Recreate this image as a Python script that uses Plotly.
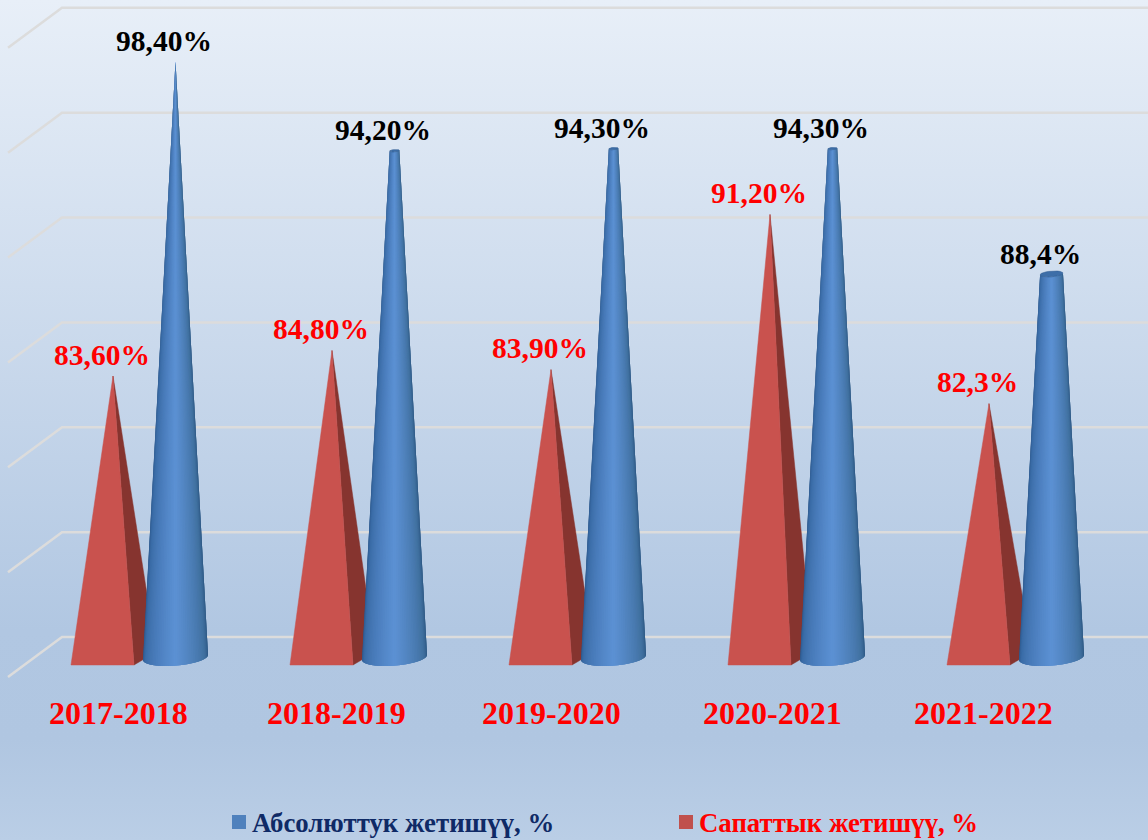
import numpy as np
import plotly.graph_objects as go
from plotly.colors import sample_colorscale

years = ["2017-2018", "2018-2019", "2019-2020", "2020-2021", "2021-2022"]
absolute = [98.4, 94.2, 94.3, 94.3, 88.4]
quality = [83.6, 84.8, 83.9, 91.2, 82.3]
absolute_labels = ["98,40%", "94,20%", "94,30%", "94,30%", "88,4%"]
quality_labels = ["83,60%", "84,80%", "83,90%", "91,20%", "82,3%"]
grid_values = [70, 75, 80, 85, 90, 95, 100]
absolute_name = "Абсолюттук жетишүү, %"
quality_name = "Сапаттык жетишүү, %"

W, H = 1148, 840
# one category = 219 px, one percent = 21.25 px, the floor of the chart sits at 70
PX_X = 219.0
PX_Y = 21.25
BASE = 70
X0_PX = 144
Y0_PX = 665
SERIF = "Liberation Serif"


def dx(px):
    return px / PX_X


def dy(px):
    return px / PX_Y


x_range = [-X0_PX / PX_X, (W - X0_PX) / PX_X]
y_range = [BASE - (H - Y0_PX) / PX_Y, BASE + Y0_PX / PX_Y]

fig = go.Figure()

# background
fig.add_trace(go.Scatter(
    x=[x_range[0], x_range[1], x_range[1], x_range[0], x_range[0]],
    y=[y_range[0], y_range[0], y_range[1], y_range[1], y_range[0]],
    mode="none", fill="toself", hoverinfo="skip", showlegend=False,
    fillgradient=dict(type="vertical", colorscale=[
        [0, "#bacee6"], [0.12, "#b0c6e1"], [0.25, "#b1c7e2"], [1, "#e8eff8"]]),
))

# gridlines, back wall plus the short diagonal on the left side
grid_x, grid_y = [], []
for v in grid_values:
    back = BASE + dy(28) + (v - BASE) * 0.987
    grid_x += [x_range[0] + dx(8), x_range[0] + dx(62), x_range[1], None]
    grid_y += [back - dy(40), back, back, None]
fig.add_trace(go.Scatter(x=grid_x, y=grid_y, mode="lines", hoverinfo="skip", showlegend=False,
                         line=dict(color="#dcdcdc", width=2.5)))

# red pyramids
tip_off = 113 - X0_PX
front_x, front_y, side_x, side_y = [], [], [], []
for i, v in enumerate(quality):
    tip = i + dx(tip_off)
    front_x += [tip, tip - dx(42), tip + dx(21), tip, None]
    front_y += [v, BASE, BASE, v, None]
    side_x += [tip, tip + dx(21), tip + dx(43), tip, None]
    side_y += [v, BASE, BASE + dy(13), v, None]
fig.add_trace(go.Scatter(x=side_x, y=side_y, mode="lines", fill="toself", fillcolor="#86342f",
                         line=dict(color="#86342f", width=0.5), hoverinfo="skip", showlegend=False))
fig.add_trace(go.Scatter(x=front_x, y=front_y, mode="lines", fill="toself", fillcolor="#c9524e",
                         line=dict(color="#c9524e", width=0.5), hoverinfo="skip", showlegend=False))

# blue truncated cones, built from long strips so the shading follows the taper
cone_off = 175.5 - X0_PX
R_BASE = 32.5
TILT = 0.077
RATIO = 0.25
N_STRIPS = 48
top_value = max(absolute)
shade = [[0, "#2a5588"], [0.12, "#3a6ba6"], [0.5, "#5c91d4"], [0.85, "#40709f"], [1, "#2a5480"]]
angles = np.linspace(np.pi, 0, N_STRIPS + 1)
low = BASE + dy(7.5)


def rim(center, level, r, theta):
    # point of the elliptical rim, theta runs along the near side
    px = r * np.cos(theta)
    return center + dx(px), level + dy(TILT * px - RATIO * r * np.sin(theta))


def strip(first, last):
    # outline of the cone surface between two rim angles, for all the cones
    xs, ys = [], []
    for i, v in enumerate(absolute):
        c = i + dx(cone_off)
        r_top = R_BASE * (1 - (v - BASE) / (top_value - BASE))
        x1, y1 = rim(c, v, r_top, first)
        x2, y2 = rim(c, v, r_top, last)
        x3, y3 = rim(c, low, R_BASE, last)
        x4, y4 = rim(c, low, R_BASE, first)
        xs += [x1, x2, x3, x4, x1, None]
        ys += [y1, y2, y3, y4, y1, None]
    return xs, ys


for s in range(N_STRIPS):
    # each strip runs on under the next one, so no seams show
    strip_x, strip_y = strip(angles[s], angles[min(s + 3, N_STRIPS)])
    col = sample_colorscale(shade, (s + 0.5) / N_STRIPS)[0]
    fig.add_trace(go.Scatter(x=strip_x, y=strip_y, mode="none", fill="toself", fillcolor=col,
                             hoverinfo="skip", showlegend=False))

# cone caps
cap_x, cap_y = [], []
for i, v in enumerate(absolute):
    c = i + dx(cone_off)
    r_top = R_BASE * (1 - (v - BASE) / (top_value - BASE))
    for t in np.linspace(0, 2 * np.pi, 25):
        px, py = rim(c, v, r_top, t)
        cap_x.append(px)
        cap_y.append(py)
    cap_x.append(None)
    cap_y.append(None)
fig.add_trace(go.Scatter(x=cap_x, y=cap_y, mode="lines", fill="toself", fillcolor="#3d6ea8",
                         line=dict(color="#2f5c92", width=0.6), hoverinfo="skip", showlegend=False))

# data labels
for i, (v, t) in enumerate(zip(absolute, absolute_labels)):
    fig.add_annotation(x=i + dx(cone_off), y=v, text=f"<b>{t}</b>", showarrow=False,
                       xshift=-11.5, yshift=20.5, font=dict(family=SERIF, size=29.5, color="black"))
for i, (v, t) in enumerate(zip(quality, quality_labels)):
    fig.add_annotation(x=i + dx(tip_off), y=v, text=f"<b>{t}</b>", showarrow=False,
                       xshift=-11.5, yshift=21.5, font=dict(family=SERIF, size=29.5, color="red"))

# category labels, they sit a little unevenly in the original
year_nudge = [0, -1, -5, -3, -11]
for i, t in enumerate(years):
    fig.add_annotation(x=i, y=BASE, text=f"<b>{t}</b>", showarrow=False,
                       xshift=-26 + year_nudge[i], yshift=-48,
                       font=dict(family=SERIF, size=32, color="red"))

# legend, swatch and text pairs placed by hand as plotly's own legend keeps them too far apart
for name, col, text_col, sw_x in [(absolute_name, "#4f81bd", "#0f2a66", 232),
                                  (quality_name, "#c0504d", "red", 679)]:
    fig.add_shape(type="rect", xref="paper", yref="paper", line_width=0, fillcolor=col,
                  x0=sw_x / W, x1=(sw_x + 14) / W, y0=1 - 829 / H, y1=1 - 815 / H)
    fig.add_annotation(xref="paper", yref="paper", x=(sw_x + 18) / W, y=1 - 823 / H, text=f"<b>{name}</b>",
                       showarrow=False, xanchor="left", yanchor="middle",
                       font=dict(family=SERIF, size=26.8, color=text_col))

fig.update_layout(
    width=W, height=H,
    margin=dict(l=0, r=0, t=0, b=0, autoexpand=False),
    paper_bgcolor="#c8d8ec", plot_bgcolor="rgba(0,0,0,0)",
    showlegend=False,
    xaxis=dict(range=x_range, visible=False, fixedrange=True),
    yaxis=dict(range=y_range, visible=False, fixedrange=True),
)

fig.write_html("out.html", config={"displayModeBar": False},
               post_script="document.body.style.margin='0';")
